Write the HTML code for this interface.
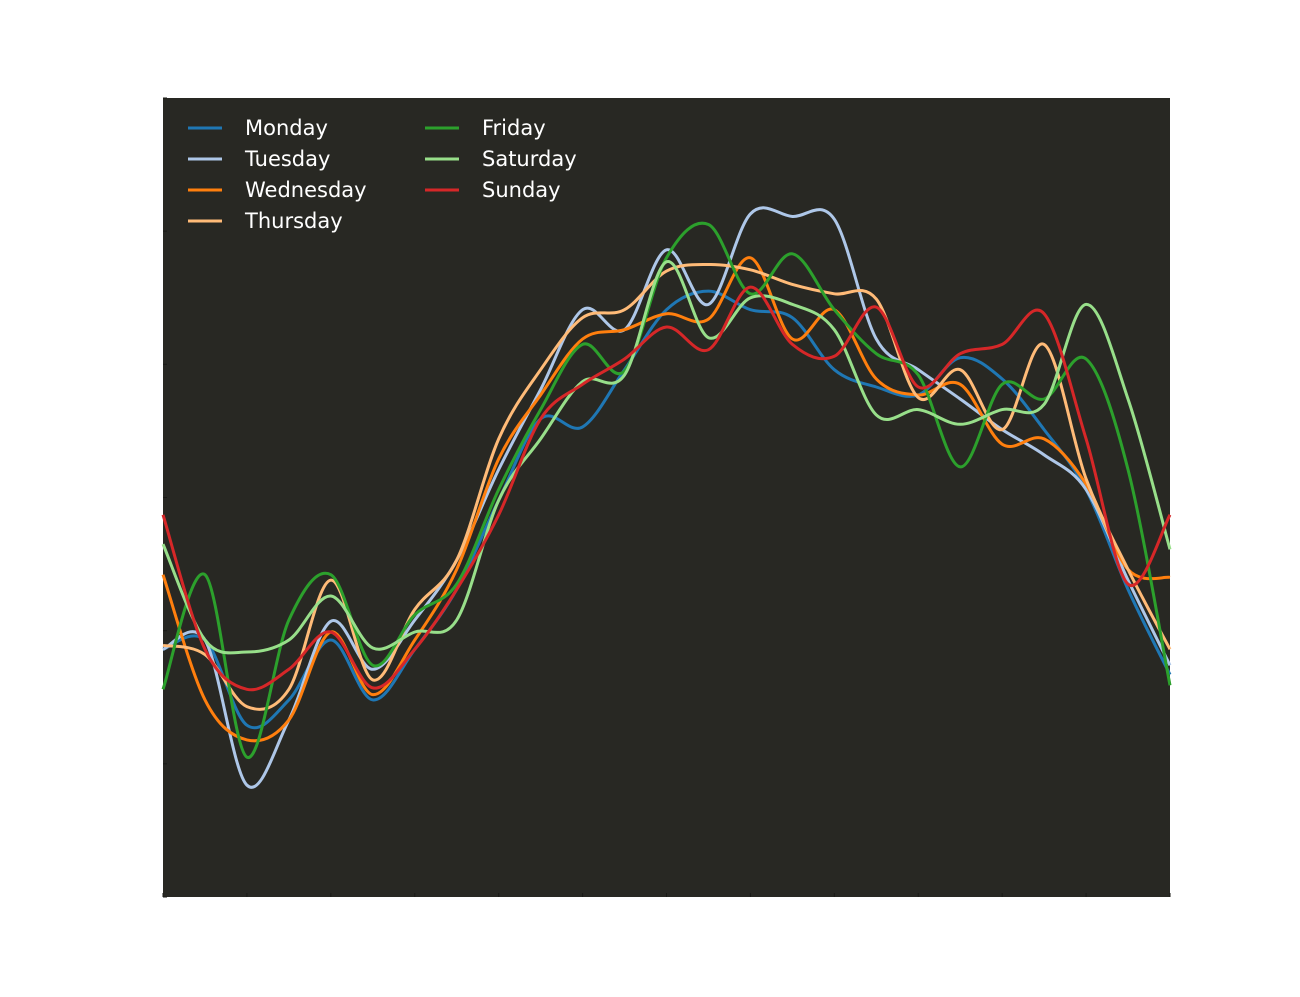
<!DOCTYPE html>
<html><head><meta charset="utf-8"><style>
html,body{margin:0;padding:0;background:#fff;}
svg{display:block;font-family:"DejaVu Sans","Liberation Sans",sans-serif;}
</style></head><body>
<svg id="chart" width="1300" height="997">
<rect x="163" y="98" width="1007" height="799" fill="#282823"/>
<g id="ticks"></g>
<g id="lines"></g>
<g id="legend"></g>
</svg>
<script>
const hours = [0,1,2,3,4,5,6,7,8,9,10,11,12,13,14,15,16,17,18,19,20,21,22,23,24];
const seriesNames = ["Monday","Tuesday","Wednesday","Thursday","Friday","Saturday","Sunday"];
const monday = [1.86,1.93,1.29,1.48,1.93,1.48,1.86,2.31,2.98,3.59,3.53,3.96,4.41,4.55,4.41,4.35,3.96,3.83,3.77,4.05,3.89,3.51,3.06,2.31,1.67];
const tuesday = [1.86,1.93,0.84,1.33,2.07,1.71,2.08,2.53,3.21,3.81,4.41,4.26,4.86,4.45,5.13,5.11,5.09,4.19,3.96,3.74,3.51,3.32,3.06,2.38,1.74];
const wednesday = [2.42,1.48,1.18,1.33,1.99,1.52,1.93,2.46,3.29,3.77,4.19,4.26,4.38,4.34,4.80,4.19,4.41,3.89,3.77,3.85,3.40,3.44,3.10,2.46,2.40];
const thursday = [1.89,1.82,1.43,1.56,2.38,1.63,2.16,2.53,3.44,3.96,4.35,4.41,4.70,4.75,4.71,4.60,4.53,4.49,3.75,3.96,3.51,4.15,3.14,2.46,1.86];
const friday = [1.56,2.42,1.05,2.08,2.42,1.74,2.12,2.35,3.06,3.66,4.15,3.95,4.80,5.05,4.53,4.83,4.41,4.08,3.92,3.23,3.85,3.74,4.04,3.21,1.59];
const saturday = [2.65,1.93,1.84,1.93,2.26,1.87,1.99,2.08,2.98,3.44,3.87,3.92,4.77,4.20,4.50,4.45,4.26,3.62,3.66,3.55,3.66,3.70,4.45,3.74,2.61];
const sunday = [2.87,1.86,1.56,1.71,1.99,1.57,1.86,2.31,2.87,3.59,3.85,4.04,4.28,4.11,4.58,4.15,4.06,4.43,3.83,4.08,4.15,4.38,3.44,2.35,2.87];
const xTicks = [0,2,4,6,8,10,12,14,16,18,20,22,24];
const yTicks = [0,1,2,3,4,5,6];

const colors = ["#1f77b4","#aec7e8","#ff7f0e","#ffbb78","#2ca02c","#98df8a","#d62728"];
const allSeries = [monday,tuesday,wednesday,thursday,friday,saturday,sunday];
const X0=163,X1=1170,Y0=897,Y1=98;
function xs(v){return X0+(v-0)/(24-0)*(X1-X0);}
function ys(v){return Y0-(v-0)/(6-0)*(Y0-Y1);}
const NS="http://www.w3.org/2000/svg";
function pathFor(vals){
  const p=vals.map((v,i)=>[xs(hours[i]),ys(v)]);
  let d="M"+p[0][0].toFixed(1)+","+p[0][1].toFixed(1);
  for(let i=0;i<p.length-1;i++){
    const a=p[Math.max(0,i-1)],b=p[i],c=p[i+1],e=p[Math.min(p.length-1,i+2)];
    const c1=[b[0]+(c[0]-a[0])/6,b[1]+(c[1]-a[1])/6];
    const c2=[c[0]-(e[0]-b[0])/6,c[1]-(e[1]-b[1])/6];
    d+=" C"+c1[0].toFixed(1)+","+c1[1].toFixed(1)+" "+c2[0].toFixed(1)+","+c2[1].toFixed(1)+" "+c[0].toFixed(1)+","+c[1].toFixed(1);
  }
  return d;
}
const tg=document.getElementById("ticks");
xTicks.forEach(t=>{
  const l=document.createElementNS(NS,"line");
  
  
  l.setAttribute("x1",xs(t));l.setAttribute("x2",xs(t));
  l.setAttribute("y1",Y0);l.setAttribute("y2",Y0-4);
  l.setAttribute("stroke","#1a1a16");l.setAttribute("stroke-width","1");
  tg.appendChild(l);
});
yTicks.forEach(t=>{
  const l=document.createElementNS(NS,"line");
  
  
  l.setAttribute("x1",X0);l.setAttribute("x2",X0+4);
  l.setAttribute("y1",ys(t));l.setAttribute("y2",ys(t));
  l.setAttribute("stroke","#1a1a16");l.setAttribute("stroke-width","1");
  tg.appendChild(l);
});
const lg=document.getElementById("lines");
allSeries.forEach((s,i)=>{
  const p=document.createElementNS(NS,"path");
  
  
  p.setAttribute("d",pathFor(s));
  p.setAttribute("fill","none");p.setAttribute("stroke",colors[i]);
  p.setAttribute("stroke-width","3");p.setAttribute("stroke-linejoin","round");
  lg.appendChild(p);
});
const leg=document.getElementById("legend");
seriesNames.forEach((n,i)=>{
  const col=i<4?0:1,row=i<4?i:i-4;
  const lx=col?425:188, ty=128+row*31;
  const g=document.createElementNS(NS,"g");
  
  
  const l=document.createElementNS(NS,"line");
  l.setAttribute("x1",lx);l.setAttribute("x2",lx+34);l.setAttribute("y1",ty);l.setAttribute("y2",ty);
  l.setAttribute("stroke",colors[i]);l.setAttribute("stroke-width","3");
  const t=document.createElementNS(NS,"text");
  t.setAttribute("x",lx+57);t.setAttribute("y",ty+7);
  t.setAttribute("fill","#ffffff");t.setAttribute("font-size","21");
  t.textContent=n;
  g.appendChild(l);g.appendChild(t);leg.appendChild(g);
});
</script>
</body></html>
